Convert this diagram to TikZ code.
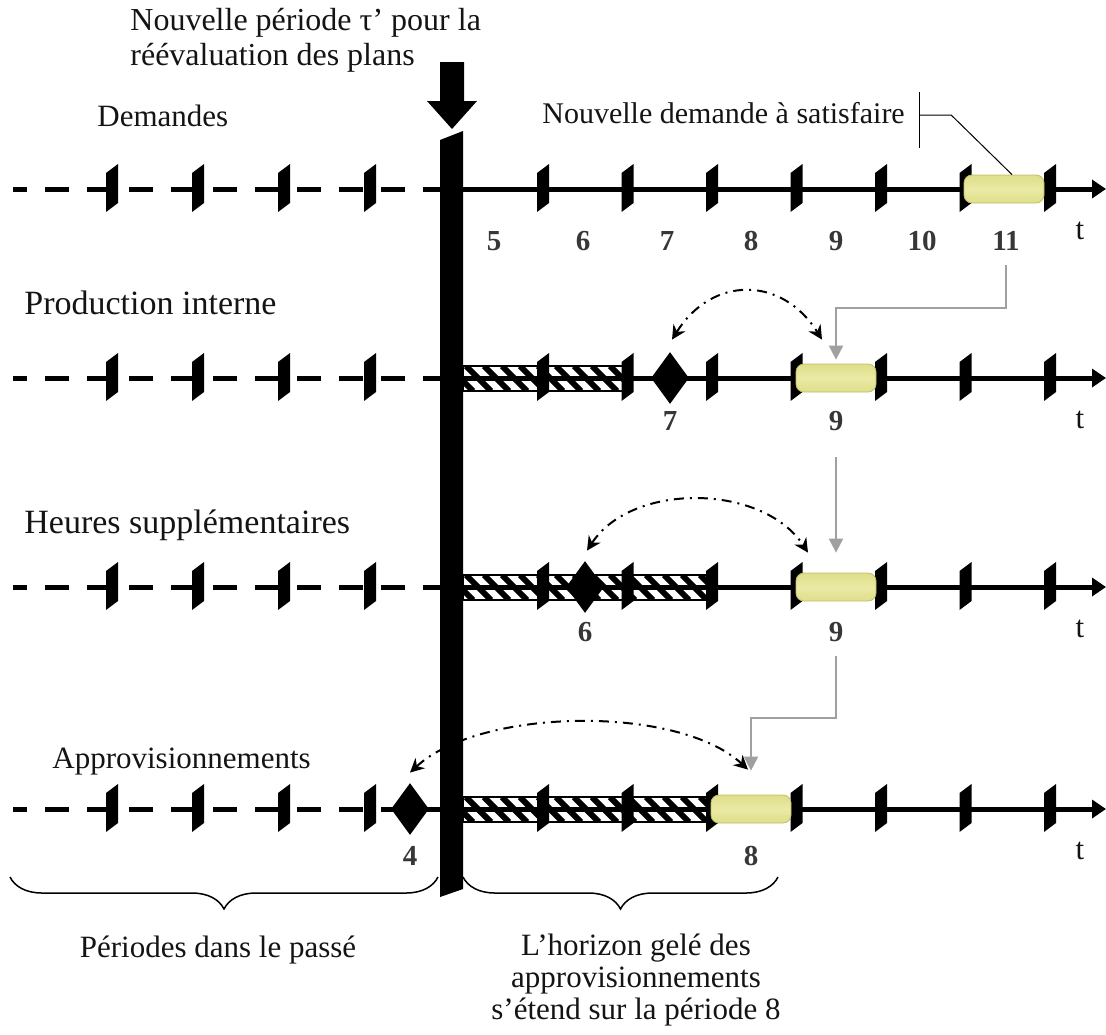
\documentclass[tikz,border=0pt]{standalone}
\usepackage{fontspec}
\setmainfont{Liberation Serif}
\usetikzlibrary{arrows.meta}
\usetikzlibrary{calc}
\usetikzlibrary{shapes.geometric}
\usetikzlibrary{decorations.pathreplacing}

\begin{document}
\begin{tikzpicture}[x=0.5pt,y=-0.5pt,
    lbl/.style={font=\fontsize{15.5}{17.5}\selectfont,text=txtgray,inner sep=1pt},
    biglbl/.style={font=\fontsize{17}{19}\selectfont,text=txtgray,inner sep=1pt},
    num/.style={font=\fontsize{14.5}{16}\selectfont\bfseries,text=numgray,inner sep=1pt},
    period/.style={rectangle,rounded corners=4pt,shading=axis,top color=ylw,bottom color=ylw,
      middle color=ylwlight,draw=ylwdark,line width=0.4pt,minimum width=40pt,minimum height=14pt,inner sep=0pt},
    milestone/.style={diamond,fill=black,minimum width=19pt,minimum height=26pt,inner sep=0pt},
    grayarr/.style={draw=arrgray,line width=1pt,-{Triangle[length=7pt,width=7pt]},shorten <=6pt,shorten >=2pt},
    dd/.style={line width=1pt,dash pattern=on 5pt off 3pt on 1pt off 3pt,
      {Stealth[length=7pt,width=7pt]}-{Stealth[length=7pt,width=7pt]}},
    brc/.style={decorate,decoration={brace,amplitude=16pt},line width=0.75pt}]

\definecolor{txtgray}{RGB}{20,20,20}
\definecolor{numgray}{RGB}{55,55,55}
\definecolor{arrgray}{RGB}{160,160,160}
\definecolor{ylw}{RGB}{222,222,138}
\definecolor{ylwlight}{RGB}{234,234,165}
\definecolor{ylwdark}{RGB}{190,190,105}

\useasboundingbox (0,0) rectangle (1106,1034);

% frozen parts (striped)
\foreach \r/\e in {378/627.5,587/712,809/712} {
  \begin{scope}
    \clip (463,\r-12) rectangle (\e,\r+13);
    \foreach \i in {430,448,...,720}
      \draw[line width=3pt] (\i,\r-12) -- (\i+25,\r+13);
  \end{scope}
  \draw[line width=0.7pt] (463,\r-12) rectangle (\e,\r+13);
}

% the four time lines
\foreach \r in {189,378,587,809} {
  \draw[line width=2.5pt,dash pattern=on 12pt off 9pt,dash phase=5pt] (13,\r) -- (440,\r);
  \draw[line width=2.5pt,-{Triangle[length=7pt,width=9pt]}] (451,\r) -- (1106,\r);
  \foreach \x in {112,198,284,370,543,627.5,712,796.5,881,965.5,1050}
    \fill (\x-6,\r-16) -- (\x+6,\r-25) -- (\x+6,\r+14) -- (\x-6,\r+23) -- cycle;
}

\node[period] (b11) at (1004,189) {};
\node[period] (b9p) at (836,378) {};
\node[period] (b9h) at (836,587) {};
\node[period] (b8) at (751,809) {};

\node[milestone] (d7) at (670,378) {};
\node[milestone] (d6) at (585,587) {};
\node[milestone] (d4) at (410,809) {};

% labels
\node[lbl,font=\fontsize{16}{17.5}\selectfont,anchor=west,align=left] (nTitle) at (128,40) {Nouvelle période τ’ pour la\\réévaluation des plans};
\node[lbl,anchor=west] (nDem) at (95,116) {Demandes};
\node[lbl,font=\fontsize{15}{17}\selectfont,anchor=west] (nNew) at (540,113) {Nouvelle demande à satisfaire};
\node[biglbl,anchor=west] (nProd) at (22,303) {Production interne};
\node[biglbl,anchor=west] (nHeur) at (22,525) {Heures supplémentaires};
\node[lbl,anchor=west] (nAppro) at (50,762) {Approvisionnements};

\node[lbl] (t1) at (1080,231) {t};
\node[lbl] (t2) at (1080,420) {t};
\node[lbl] (t3) at (1080,629) {t};
\node[lbl] (t4) at (1080,851) {t};

\node[num] (l5) at (494,241) {5};
\node[num] (l6) at (583,241) {6};
\node[num] (l7) at (667,241) {7};
\node[num] (l8) at (751,241) {8};
\node[num] (l9) at (836,241) {9};
\node[num] (l10) at (922,241) {10};
\node[num] (l11) at (1006,241) {11};
\node[num] (l7p) at (670,421) {7};
\node[num] (l9p) at (836,421) {9};
\node[num] (l6h) at (585,632) {6};
\node[num] (l9h) at (836,632) {9};
\node[num] (l4a) at (410,856) {4};
\node[num] (l8a) at (751,856) {8};

% callout
\draw[line width=0.5pt] ($(nNew.east)+(12,-21)$) -- ($(nNew.east)+(12,35)$);
\draw[line width=0.5pt] ($(nNew.east)+(12,2)$) -- ($(nNew.east)+(44,2)$) -- ($(b11.north)+(8,0)$);

% report of the demand
\coordinate (g1) at (1006,308);
\coordinate (g3) at (836,718);
\draw[grayarr,shorten <=6pt] (l11.south) -- (l11.south |- g1) -| (b9p.north);
\draw[grayarr,shorten <=12pt,shorten >=10pt] (l9p.south) -- (b9h.north);
\draw[grayarr,shorten >=12pt] (l9h.south) -- (g3) -| (b8.north);

\draw[dd] ($(d7.north)+(2,-12)$) .. controls +(40,-64) and +(-40,-64) .. ($(b9p.north)+(-14,-24)$);
\draw[dd] ($(d6.north)+(2,-10)$) .. controls +(45,-69) and +(-45,-69) .. ($(b9h.north)+(-28,-20)$);
\draw[dd] ($(d4.north)+(0,-10)$) .. controls +(70,-65) and +(-70,-65) .. ($(b8.north)+(-3,-25)$);

% new period tau'
\fill (440,140) -- (463,131) -- (463,889) -- (440,897) -- cycle;
\fill (440,62) -- (464,62) -- (464,101) -- (477,101) -- (452,129) -- (427,101) -- (440,101) -- cycle;

\draw[brc] (438,877) -- (10,877);
\draw[brc] (778,877) -- (463,877);
\node[lbl] (nPast) at (218,950) {Périodes dans le passé};
\node[lbl,font=\fontsize{15.5}{16.2}\selectfont,align=center] (nFrozen) at (636,980) {L’horizon gelé des\\approvisionnements\\s’étend sur la période 8};

\end{tikzpicture}
\end{document}
